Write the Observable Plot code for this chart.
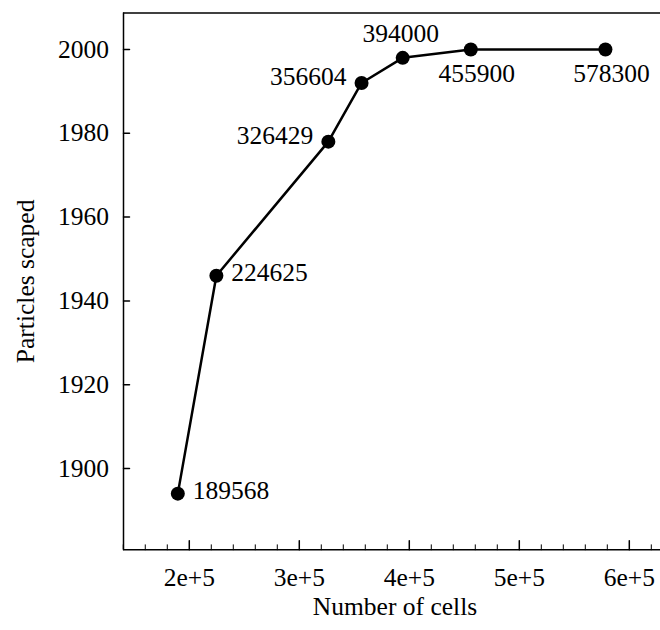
<!DOCTYPE html>
<html>
<head>
<meta charset="utf-8">
<script src="https://cdn.jsdelivr.net/npm/d3@7"></script>
<script src="https://cdn.jsdelivr.net/npm/@observablehq/plot@0.6"></script>
<style>
  html, body { margin: 0; padding: 0; background: #fff; }
  #chart svg { display: block; }
</style>
</head>
<body>
<div id="chart"></div>
<script>
// Data
const cells = [189568, 224625, 326429, 356604, 394000, 455900, 578300];
const particles = [1894, 1946, 1978, 1992, 1998, 2000, 2000];
const labelSide = ["right", "right", "left", "left", "above", "below", "below"];
const xMajorTicks = [200000, 300000, 400000, 500000, 600000];
const xTickLabels = ["2e+5", "3e+5", "4e+5", "5e+5", "6e+5"];
const yTicks = [1900, 1920, 1940, 1960, 1980, 2000];
const xTitle = "Number of cells";
const yTitle = "Particles scaped";

const data = cells.map((c, i) => ({cells: c, particles: particles[i], side: labelSide[i], label: String(c)}));
const xMinor = d3.range(140000, 640000, 20000).filter(v => !xMajorTicks.includes(v));

const xDomain = [140200, 628360];
const yDomain = [1880.6, 2008.7];
const font = "'Liberation Serif', 'Times New Roman', serif";
const fs = 25.5;

// plain line shape for inward tick marks
const tickShape = {draw(context, l) { context.moveTo(0, 0); context.lineTo(0, -l); }};

const sideOpts = {
  right: {textAnchor: "start", dx: 15, dy: -3},
  left: {textAnchor: "end", dx: -15, dy: -6},
  above: {textAnchor: "middle", dx: -2, dy: -24},
  below: {textAnchor: "middle", dx: 6, dy: 24}
};

const labelMarks = Object.keys(sideOpts).map(side =>
  Plot.text(data.filter(d => d.side === side), {
    x: "cells", y: "particles", text: "label",
    fontSize: fs, fill: "#000", ...sideOpts[side]
  })
);

const plot = Plot.plot({
  width: 660,
  height: 630,
  marginLeft: 123,
  marginRight: 0,
  marginTop: 12.5,
  marginBottom: 80.7,
  style: {fontFamily: font, background: "#fff", color: "#000"},
  x: {type: "linear", domain: xDomain},
  y: {type: "linear", domain: yDomain},
  marks: [
    // axis lines: left, bottom, top
    Plot.ruleX([xDomain[0]], {stroke: "#000", strokeWidth: 1.5}),
    Plot.ruleY([yDomain[0]], {stroke: "#000", strokeWidth: 1.5}),
    Plot.ruleY([yDomain[1]], {stroke: "#000", strokeWidth: 1.5}),
    // x ticks pointing inward (upward)
    Plot.vector(xMinor, {x: d => d, y: () => yDomain[0], length: 5, rotate: 0, anchor: "start", shape: tickShape, stroke: "#000", strokeWidth: 1}),
    Plot.vector(xMajorTicks, {x: d => d, y: () => yDomain[0], length: 9, rotate: 0, anchor: "start", shape: tickShape, stroke: "#000", strokeWidth: 1.5}),
    Plot.axisX(xMajorTicks, {tickSize: 0, tickPadding: 18, tickFormat: (d, i) => xTickLabels[i], label: null, fontSize: fs, fill: "#000"}),
    // y ticks pointing inward (right)
    Plot.vector(yTicks, {x: () => xDomain[0], y: d => d, length: 6, rotate: 90, anchor: "start", shape: tickShape, stroke: "#000", strokeWidth: 1.5}),
    Plot.axisY(yTicks, {tickSize: 0, tickPadding: 14.5, tickFormat: d => String(d), label: null, fontSize: fs, fill: "#000"}),
    // axis titles
    Plot.text([xTitle], {frameAnchor: "bottom", textAnchor: "middle", dy: 57, dx: 3, fontSize: fs, fill: "#000", lineAnchor: "middle"}),
    Plot.text([yTitle], {frameAnchor: "left", textAnchor: "middle", dx: -98, rotate: -90, fontSize: fs, fill: "#000", lineAnchor: "middle"}),
    // data
    Plot.line(data, {x: "cells", y: "particles", stroke: "#000", strokeWidth: 2.5}),
    Plot.dot(data, {x: "cells", y: "particles", r: 7, fill: "#000", stroke: "none"}),
    ...labelMarks
  ]
});

document.getElementById("chart").appendChild(plot);
</script>
</body>
</html>
